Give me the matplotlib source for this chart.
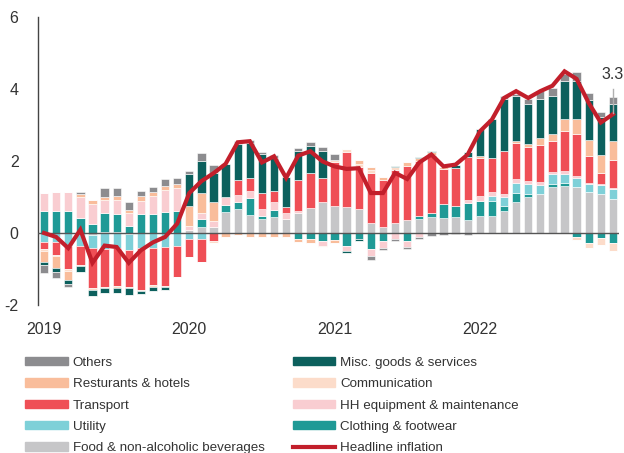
import matplotlib
matplotlib.use("Agg")
import matplotlib.pyplot as plt
import matplotlib.patches as mpatches
from matplotlib.lines import Line2D
import numpy as np

plt.rcParams['font.family'] = ['Liberation Sans', 'DejaVu Sans']

# Jan 2019 .. Dec 2022, contributions in percentage points
years = ["2019", "2020", "2021", "2022"]

food = [0, 0, 0, 0, -0.05, 0.03, 0.03, -0.03, 0, 0, 0, 0,
        0.08, 0.18, 0.18, 0.57, 0.68, 0.5, 0.4, 0.45, 0.4, 0.56, 0.69, 0.87,
        0.75, 0.72, 0.66, 0.27, 0.16, 0.28, 0.35, 0.38, 0.45, 0.43, 0.44, 0.37,
        0.46, 0.47, 0.62, 0.87, 1.0, 1.08, 1.27, 1.31, 1.27, 1.13, 1.08, 0.94]
clothing = [0.62, 0.6, 0.61, 0.43, 0.24, 0.52, 0.5, 0.2, 0.53, 0.53, 0.59, 0.62,
            0, 0.2, 0, 0.22, 0.19, 0.46, 0.06, 0.2, 0, -0.16, -0.17, -0.21,
            -0.19, -0.37, -0.17, -0.45, -0.21, 0, -0.21, 0.09, 0.11, 0.38, 0.31, 0.46,
            0.42, 0.43, 0.13, 0.25, 0.09, 0, 0.09, 0.07, -0.1, -0.27, -0.15, -0.29]
utility = [-0.24, -0.26, -0.36, -0.36, -0.38, -0.44, -0.43, -0.44, -0.43, -0.41, -0.38, -0.36,
           -0.18, -0.18, 0, 0, 0, 0, 0, 0, 0, 0, 0, 0,
           0, 0, 0, 0, 0, 0, 0, 0, 0, 0, 0, 0,
           0, 0.12, 0.24, 0.26, 0.28, 0.26, 0.27, 0.27, 0.27, 0.24, 0.25, 0.27]
hh_equipment = [0.5, 0.54, 0.52, 0.56, 0.56, 0.37, 0.39, 0.35, 0.37, 0.51, 0.6, 0.63,
                0.11, 0.17, 0.16, 0.2, 0.19, 0.21, 0.2, 0.2, 0.15, 0.06, 0, -0.14,
                0, -0.14, 0, -0.2, -0.21, -0.16, -0.18, -0.12, 0, 0, 0, 0.1,
                0.14, 0.13, 0.09, 0.13, 0.08, 0.07, 0.07, 0.06, 0.05, 0.03, 0.03, 0.03]
transport = [-0.2, -0.35, -0.65, -0.53, -1.11, -1.05, -1.03, -1.02, -1.15, -1.04, -1.08, -0.85,
             -0.48, -0.62, -0.21, 0, 0.4, 0.37, 0.44, 0.31, 0.17, 0.85, 0.98, 0.65,
             1.23, 1.52, 1.18, 1.41, 1.3, 1.46, 1.5, 1.53, 1.61, 0.96, 1.05, 1.17,
             1.06, 0.93, 1.2, 0.98, 0.95, 1.04, 0.85, 1.13, 1.17, 0.74, 0.32, 0.8]
communication = [-0.06, -0.04, -0.04, -0.04, -0.04, -0.04, -0.06, -0.03, -0.02, -0.04, -0.04, 0,
                 0, 0, -0.08, 0, 0, 0, 0, 0, 0, 0, 0, -0.05,
                 0.06, 0.09, 0.07, 0.08, 0, 0.09, 0, 0, 0, 0, 0, 0,
                 -0.03, -0.03, 0, 0, 0, 0, 0, 0, -0.09, -0.16, -0.17, -0.2]
restaurants = [-0.3, -0.32, -0.26, 0.08, 0.11, 0.07, 0.12, 0.1, 0.13, 0.09, 0.12, 0.11,
               0.56, 0.56, 0.51, -0.1, -0.05, -0.11, -0.12, -0.11, -0.12, -0.08, -0.12, 0,
               -0.09, 0, 0.11, 0.06, 0.09, 0, 0.11, 0.07, 0.07, 0.05, 0, 0,
               0.05, 0, 0, 0.07, 0.07, 0.2, 0.2, 0.33, 0.4, 0.43, 0.49, 0.52]
misc = [-0.1, -0.1, -0.11, -0.15, -0.16, -0.14, -0.16, -0.2, -0.09, -0.11, -0.08, 0,
        0.88, 0.88, 0.81, 0.93, 1.0, 0.95, 1.1, 0.93, 0.84, 0.81, 0.76, 0.77,
        0, -0.05, -0.04, 0, 0, 0.03, 0.02, 0.03, 0.05, 0, 0.08, 0.15,
        0.77, 1.1, 1.45, 1.24, 1.11, 1.07, 1.06, 1.06, 1.06, 1.12, 1.06, 1.02]
others = [-0.2, -0.17, -0.09, 0.07, 0, 0.25, 0.2, 0.21, 0.14, 0.16, 0.18, 0.17,
          0.1, 0.22, 0.23, 0, 0.09, 0.1, 0.04, 0.09, 0, 0.09, 0.09, 0.11,
          0.15, 0, 0, -0.09, -0.05, -0.05, -0.05, -0.04, -0.08, -0.05, -0.03, -0.05,
          0, 0, 0.07, 0.06, 0.15, 0.22, 0.23, 0.2, 0.26, 0.2, 0.14, 0.19]
headline = [0.0, -0.11, -0.42, 0.09, -0.83, -0.35, -0.39, -0.83, -0.48, -0.26, -0.11, 0.26,
            1.11, 1.44, 1.66, 1.92, 2.52, 2.55, 1.96, 2.13, 1.53, 2.15, 2.27, 1.99,
            1.85, 1.78, 1.8, 1.11, 1.11, 1.67, 1.5, 1.96, 2.18, 1.85, 1.9, 2.18,
            2.82, 3.15, 3.75, 3.94, 3.75, 3.94, 4.09, 4.49, 4.28, 3.61, 3.07, 3.3]

# stacking order, bottom to top
series = [
    ("Food & non-alcoholic beverages", food, "#c6c6c8"),
    ("Clothing & footwear", clothing, "#1f9a96"),
    ("Utility", utility, "#7ed0d8"),
    ("HH equipment & maintenance", hh_equipment, "#f9cdd1"),
    ("Transport", transport, "#ef4f56"),
    ("Communication", communication, "#fcdcca"),
    ("Resturants & hotels", restaurants, "#f9bd9b"),
    ("Misc. goods & services", misc, "#0c605d"),
    ("Others", others, "#8c8c8f"),
]
line_color = "#c21f2b"

x = np.arange(len(headline))

fig = plt.figure(figsize=(6.24, 4.53), dpi=100)
ax = fig.add_axes([38 / 624, 1 - 305 / 453, (619 - 38) / 624, 288 / 453])

pos_base = np.zeros(len(x))
neg_base = np.zeros(len(x))
handles = {}
for name, vals, col in series:
    v = np.array(vals, dtype=float)
    p = np.where(v > 0, v, 0)
    n = np.where(v < 0, v, 0)
    ax.bar(x, p, bottom=pos_base, width=0.69, color=col, edgecolor="white", linewidth=0.4)
    ax.bar(x, n, bottom=neg_base, width=0.69, color=col, edgecolor="white", linewidth=0.4)
    pos_base += p
    neg_base += n
    handles[name] = mpatches.Patch(color=col, label=name)

ax.axhline(0, color="#555555", lw=1, zorder=3)
ax.plot(x, headline, color=line_color, lw=3, zorder=4, solid_joinstyle="miter")
handles["Headline inflation"] = Line2D([], [], color=line_color, lw=3, label="Headline inflation")

# label on last point
ax.plot([x[-1], x[-1]], [headline[-1] + 0.02, 4.0], color="#b0b0b0", lw=1, zorder=5)
ax.text(x[-1], 4.2, f"{headline[-1]:.1f}", ha="center", va="bottom", fontsize=11.5, color="#333333")

ax.set_xlim(-0.5, 47.5)
ax.set_ylim(-2, 6)
ax.set_yticks([-2, 0, 2, 4, 6])
ax.set_yticklabels(["-2", "0", "2", "4", "6"])
ax.set_xticks([0, 12, 24, 36])
ax.set_xticklabels(years)
ax.tick_params(axis="both", length=0, labelsize=11.5, colors="#333333")
ax.tick_params(axis="y", pad=14)
ax.tick_params(axis="x", pad=12)
for s in ["top", "right", "bottom"]:
    ax.spines[s].set_visible(False)
ax.spines["left"].set_color("#444444")
ax.spines["left"].set_linewidth(1)

order = ["Others", "Resturants & hotels", "Transport", "Utility", "Food & non-alcoholic beverages",
         "Misc. goods & services", "Communication", "HH equipment & maintenance",
         "Clothing & footwear", "Headline inflation"]
fig.legend([handles[k] for k in order], order, ncol=2, loc="upper left",
           bbox_to_anchor=(0.040, 0.212), frameon=False, fontsize=9.6,
           handlelength=3.2, handleheight=0.6, handletextpad=0.38,
           columnspacing=2.1, labelspacing=0.7, borderaxespad=0, borderpad=0,
           labelcolor="#333333")

fig.savefig("out.png", dpi=100)
